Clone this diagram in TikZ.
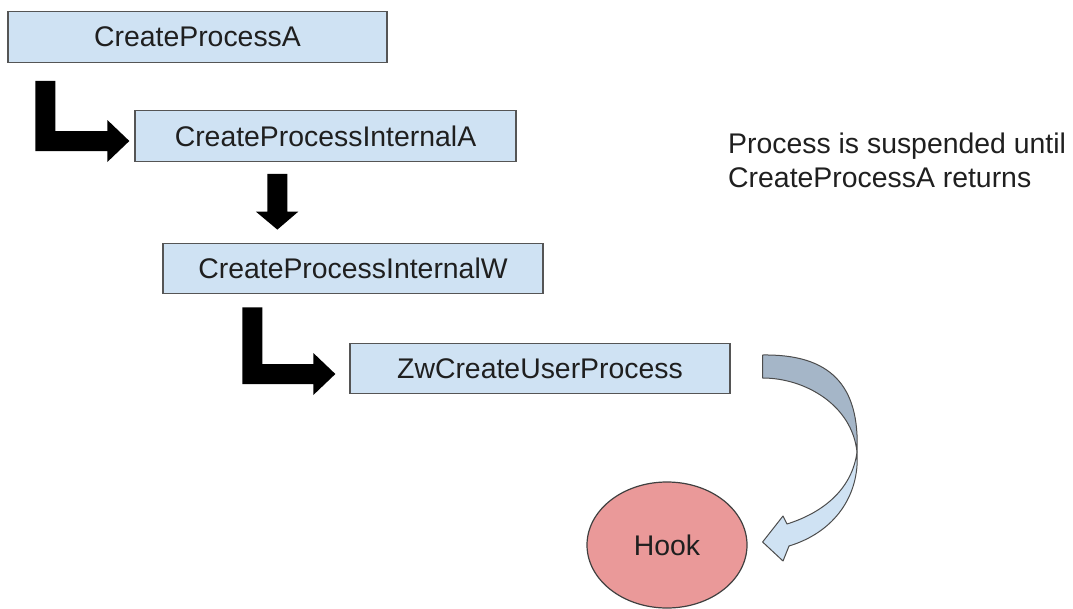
\documentclass[tikz,border=0pt]{standalone}
\usepackage{fontspec}
\setmainfont{Liberation Sans}
\usetikzlibrary{calc,shapes.geometric}
\definecolor{boxblue}{HTML}{CFE2F3}
\definecolor{boxline}{HTML}{555555}
\definecolor{hookred}{HTML}{EA9999}
\definecolor{bandshade}{HTML}{A5B6C8}
\definecolor{inktext}{HTML}{1F1F1F}
\tikzset{
  callbox/.style={draw=boxline, line width=1.3pt, fill=boxblue, rectangle,
    inner sep=0pt, minimum height=50.5pt, text=inktext,
    font=\fontsize{28.4}{34}\selectfont},
  hookshape/.style={draw=black!75, line width=1.2pt, fill=hookred, ellipse,
    inner sep=0pt, minimum width=160pt, minimum height=126pt, text=inktext,
    font=\fontsize{28.4}{34}\selectfont},
  blockarrow/.style={fill=black},
  bandpart/.style={draw=black!70, line width=1pt, line join=round},
  notetext/.style={align=left, inner sep=0pt, text=inktext,
    font=\fontsize{28.4}{34}\selectfont},
}
\begin{document}
\begin{tikzpicture}[x=1pt, y=-1pt]
  \useasboundingbox (0,0) rectangle (1073,608);

  % call chain
  \node[callbox, minimum width=379pt] (cpa)  at (197.5,37)  {CreateProcessA};
  \node[callbox, minimum width=381pt] (cpia) at (325.5,136) {CreateProcessInternalA};
  \node[callbox, minimum width=380pt] (cpiw) at (353,268.5) {CreateProcessInternalW};
  \node[callbox, minimum width=380pt] (zw)   at (540,368.5) {ZwCreateUserProcess};

  \node[hookshape] (hook) at (667,545) {Hook};

  % two-line remark; base anchor sits on the last line
  \node[notetext, anchor=base west] (note) at (728,187)
    {Process is suspended until\\CreateProcessA returns};

  % elbow arrow: CreateProcessA -> CreateProcessInternalA
  \coordinate (e1) at ($(cpa.south west)+(28,18)$);
  \coordinate (t1) at ($(cpia.west)+(-5,5)$);
  \fill[blockarrow] (e1) -- ++(20,0) |- ($(t1)+(-22,-10)$) -- ++(0,-11)
    -- (t1) -- ++(-22,21) -- ++(0,-11) -| (e1) -- cycle;

  % straight arrow: CreateProcessInternalA -> CreateProcessInternalW
  \coordinate (d0) at ($(cpia.south west)+(143,12)$);
  \coordinate (d1) at ($(cpiw.north west)+(115,-13)$);
  \fill[blockarrow] ($(d0)+(-10,0)$) -- ++(20,0) -- ($(d1)+(10,-18)$)
    -- ++(11,0) -- (d1) -- ++(-21.5,-18) -- ++(11.5,0) -- cycle;

  % elbow arrow: CreateProcessInternalW -> ZwCreateUserProcess
  \coordinate (e2) at ($(cpiw.south west)+(80,13)$);
  \coordinate (t2) at ($(zw.west)+(-14,5.5)$);
  \fill[blockarrow] (e2) -- ++(20,0) |- ($(t2)+(-22,-10)$) -- ++(0,-11)
    -- (t2) -- ++(-22,21) -- ++(0,-11) -| (e2) -- cycle;

  % curved arrow: ZwCreateUserProcess -> Hook (band twists half way)
  \coordinate (ca) at ($(zw.east)+(32,-13.5)$);
  \coordinate (cb) at ($(zw.east)+(32,9.5)$);
  \coordinate (tw) at (857,452);
  \coordinate (ct) at ($(hook.east)+(15,-3)$);
  \filldraw[bandpart, fill=bandshade] (ca) .. controls (830,354) and (860,385) .. (tw)
    .. controls (852,405) and (805,378) .. (cb) -- cycle;
  \filldraw[bandpart, fill=boxblue] (tw) .. controls (860,495) and (835,532) .. (789,546)
    -- (783,561) -- (ct) -- (783,516) -- (787,524)
    .. controls (822,513) and (852,490) .. (tw) -- cycle;
\end{tikzpicture}
\end{document}
